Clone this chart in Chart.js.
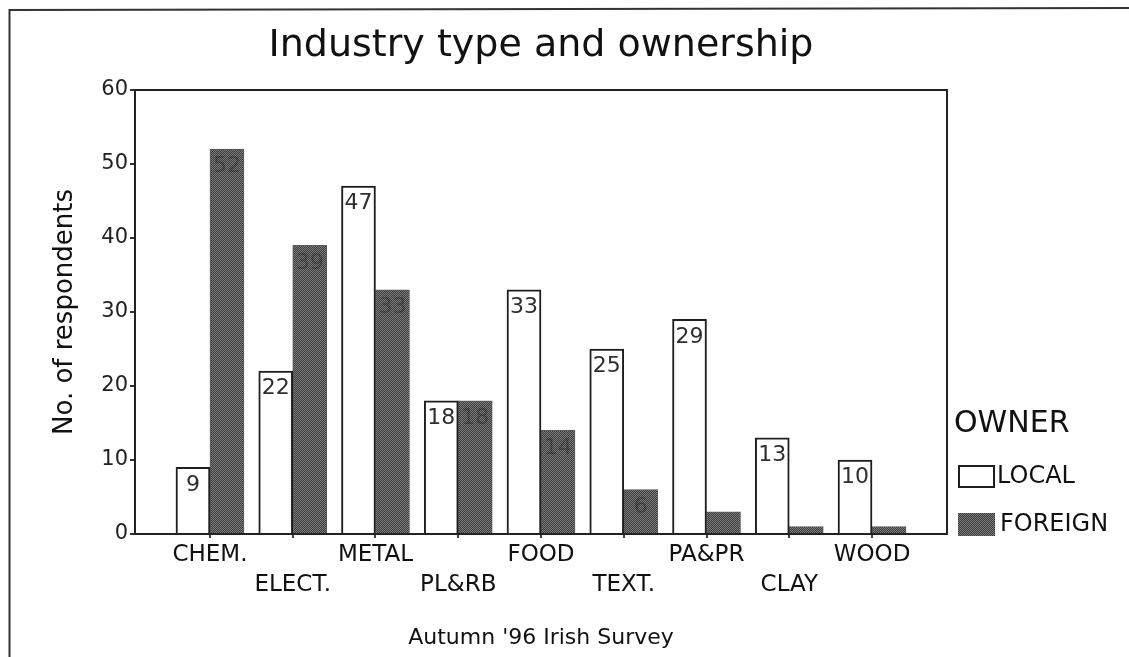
<!DOCTYPE html>
<html>
<head>
<meta charset="utf-8">
<title>Industry type and ownership</title>
<script src="https://cdn.jsdelivr.net/npm/chart.js@4/dist/chart.umd.min.js"></script>
<style>
  html, body { margin: 0; padding: 0; background: #fff; }
  canvas { display: block; }
</style>
</head>
<body>
<canvas id="chart" width="1129" height="657"></canvas>
<script>
// Respondents by industry sector, split by ownership
const categories = ['CHEM.', 'ELECT.', 'METAL', 'PL&RB', 'FOOD', 'TEXT.', 'PA&PR', 'CLAY', 'WOOD'];
const localCounts = [9, 22, 47, 18, 33, 25, 29, 13, 10];
const foreignCounts = [52, 39, 33, 18, 14, 6, 3, 1, 1];
const seriesNames = ['LOCAL', 'FOREIGN'];
const yTickValues = [0, 10, 20, 30, 40, 50, 60];

const FONT = "'DejaVu Sans', 'Liberation Sans', sans-serif";
const INK = '#1e1e1e';

// Fine grey stipple used for foreign-owned bars
function makeStipple() {
  const p = document.createElement('canvas');
  p.width = 4; p.height = 4;
  const g = p.getContext('2d');
  for (let y = 0; y < 4; y++) {
    for (let x = 0; x < 4; x++) {
      g.fillStyle = (x + y) % 2 === 0 ? '#7c7c7c' : '#3c3c3c';
      g.fillRect(x, y, 1, 1);
    }
  }
  return g.createPattern(p, 'repeat');
}
const stipple = makeStipple();

// Page background, outer frame and the closed plot box
const framePlugin = {
  id: 'frame',
  beforeDraw(chart) {
    const ctx = chart.ctx;
    ctx.save();
    ctx.fillStyle = '#fff';
    ctx.fillRect(0, 0, chart.width, chart.height);
    ctx.strokeStyle = '#333';
    ctx.lineWidth = 2;
    ctx.beginPath();
    ctx.moveTo(9.5, chart.height);
    ctx.lineTo(9.5, 10);
    ctx.lineTo(chart.width, 8);
    ctx.stroke();
    ctx.restore();
  },
  afterDatasetsDraw(chart) {
    const ctx = chart.ctx;
    const a = chart.chartArea;
    ctx.save();
    ctx.strokeStyle = '#222';
    ctx.lineWidth = 2;
    ctx.beginPath();
    ctx.moveTo(a.left, a.top);
    ctx.lineTo(a.right, a.top);
    ctx.lineTo(a.right, a.bottom);
    ctx.stroke();

    // value labels inside the top of each bar
    ctx.font = '22px ' + FONT;
    ctx.textAlign = 'center';
    ctx.textBaseline = 'middle';
    chart.data.datasets.forEach((ds, di) => {
      const meta = chart.getDatasetMeta(di);
      meta.data.forEach((bar, i) => {
        const v = ds.data[i].y;
        if (bar.base - bar.y < 30) return;
        ctx.fillStyle = di === 0 ? '#2e2e2e' : 'rgba(25,25,25,0.38)';
        ctx.fillText(String(v), bar.x, bar.y + 17.5);
      });
    });
    ctx.restore();
  },
  afterDraw(chart) {
    // legend: title plus one swatch per series
    const ctx = chart.ctx;
    ctx.save();
    ctx.fillStyle = '#111';
    ctx.textAlign = 'left';
    ctx.textBaseline = 'middle';
    ctx.font = '30px ' + FONT;
    ctx.fillText('OWNER', 954, 424);
    const rows = [476, 524];
    chart.data.datasets.forEach((ds, di) => {
      const cy = rows[di];
      ctx.fillStyle = ds.backgroundColor;
      ctx.fillRect(958, cy - 11, 37, 23);
      if (di === 0) {
        ctx.strokeStyle = INK;
        ctx.lineWidth = 2;
        ctx.strokeRect(959, cy - 10, 35, 21);
      }
      ctx.fillStyle = '#111';
      ctx.font = '24px ' + FONT;
      ctx.fillText(ds.label, di === 0 ? 997 : 1000, cy + 1);
    });
    ctx.restore();
  }
};

const chart = new Chart(document.getElementById('chart'), {
  type: 'bar',
  data: {
    datasets: [
      {
        label: seriesNames[0],
        data: localCounts.map((v, i) => ({ x: i, y: v })),
        backgroundColor: '#ffffff',
        borderColor: INK,
        borderWidth: 2,
        barThickness: 34
      },
      {
        label: seriesNames[1],
        data: foreignCounts.map((v, i) => ({ x: i, y: v })),
        backgroundColor: stipple,
        borderColor: '#5a5a5a',
        borderWidth: 1,
        barThickness: 34
      }
    ]
  },
  options: {
    responsive: false,
    animation: false,
    devicePixelRatio: 1,
    layout: { padding: { left: 0, right: 182, top: 0, bottom: 0 } },
    plugins: {
      legend: { display: false },
      tooltip: { enabled: false },
      title: {
        display: true,
        text: 'Industry type and ownership',
        fullSize: false,
        color: '#111',
        font: { family: FONT, size: 38, weight: 'normal', lineHeight: 1.2 },
        padding: { top: 23.7, bottom: 20.7 }
      },
      subtitle: {
        display: true,
        position: 'bottom',
        text: "Autumn '96 Irish Survey",
        fullSize: false,
        color: '#111',
        font: { family: FONT, size: 22, weight: 'normal', lineHeight: 1.2 },
        padding: { top: 10, bottom: 5.3 }
      }
    },
    scales: {
      x: {
        type: 'linear',
        bounds: 'data',
        min: -0.906,
        max: 8.906,
        offset: false,
        z: 1,
        afterBuildTicks: s => { s.ticks = categories.map((_, i) => ({ value: i })); },
        afterFit: s => { s.height = 81.3; },
        ticks: {
          autoSkip: false,
          maxRotation: 0,
          minRotation: 0,
          padding: 2.5,
          color: '#111',
          font: { family: FONT, size: 23, lineHeight: '30px' },
          callback: (v, i) => (i % 2 ? ['', categories[i]] : categories[i])
        },
        grid: { display: true, offset: false, drawOnChartArea: false, drawTicks: true, tickLength: 4, color: '#444', lineWidth: 2 },
        border: { display: true, color: '#222', width: 2 }
      },
      y: {
        min: 0,
        max: 60,
        afterBuildTicks: s => { s.ticks = yTickValues.map(v => ({ value: v })); },
        afterFit: s => { s.width = 135; },
        ticks: { color: '#222', padding: 2, font: { family: FONT, size: 21 } },
        grid: { display: true, drawOnChartArea: false, drawTicks: true, tickLength: 5, color: '#333', lineWidth: 2 },
        border: { display: true, color: '#222', width: 2 },
        title: {
          display: true,
          text: 'No. of respondents',
          color: '#111',
          font: { family: FONT, size: 26, weight: 'normal', lineHeight: 1.2 },
          padding: { top: 50, bottom: 0 }
        }
      }
    }
  },
  plugins: [framePlugin]
});
</script>
</body>
</html>
